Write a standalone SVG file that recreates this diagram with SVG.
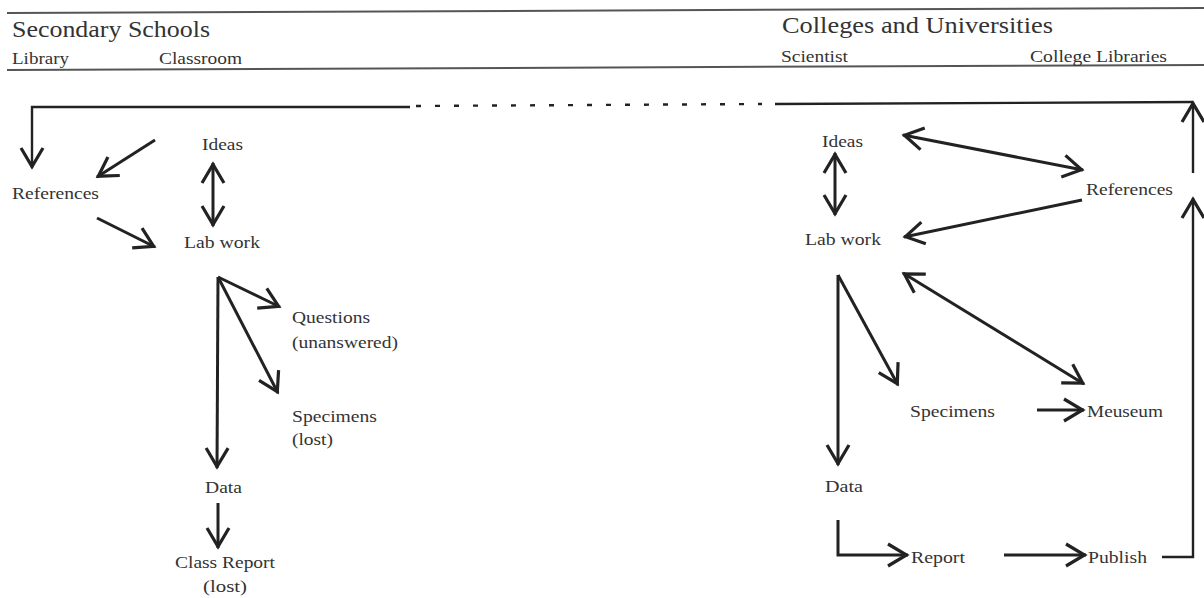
<svg xmlns="http://www.w3.org/2000/svg" width="1204" height="598" viewBox="0 0 1204 598">
<style>
text{font-family:"Liberation Serif","Times New Roman",serif;fill:#333;font-size:16.5px}
.h1{font-size:24px}
.h2{font-size:16px}
.rule{stroke:#555;stroke-width:2;fill:none}
.c{stroke:#222;stroke-width:3;fill:none}
.fb{stroke:#222;stroke-width:2.4;fill:none}
</style>
<defs>
<marker id="ah" viewBox="-26 -15 30 30" refX="0" refY="0" markerWidth="30" markerHeight="30" markerUnits="userSpaceOnUse" orient="auto-start-reverse">
<path d="M-20,-11 L-1.5,0 L-20,11" fill="none" stroke="#222" stroke-width="3.2"/>
</marker>
</defs>
<g id="header">
<line class="rule" x1="7" y1="13" x2="1204" y2="8"/>
<line class="rule" x1="7" y1="70" x2="1204" y2="65"/>
<text class="h1" x="12" y="37" textLength="198" lengthAdjust="spacingAndGlyphs">Secondary Schools</text>
<text class="h2" x="12" y="64" textLength="57" lengthAdjust="spacingAndGlyphs">Library</text>
<text class="h2" x="159" y="64" textLength="83" lengthAdjust="spacingAndGlyphs">Classroom</text>
<text class="h1" x="782" y="33" textLength="271" lengthAdjust="spacingAndGlyphs">Colleges and Universities</text>
<text class="h2" x="781" y="62" textLength="67" lengthAdjust="spacingAndGlyphs">Scientist</text>
<text class="h2" x="1030" y="62" textLength="137" lengthAdjust="spacingAndGlyphs">College Libraries</text>
</g>
<g id="s-ideas"><text x="202" y="150" textLength="41" lengthAdjust="spacingAndGlyphs">Ideas</text></g>
<g id="s-references"><text x="12" y="199" textLength="87" lengthAdjust="spacingAndGlyphs">References</text></g>
<g id="s-labwork"><text x="184" y="248" textLength="76" lengthAdjust="spacingAndGlyphs">Lab work</text></g>
<g id="s-questions"><text x="292" y="323" textLength="78" lengthAdjust="spacingAndGlyphs">Questions</text><text x="292" y="348" textLength="106" lengthAdjust="spacingAndGlyphs">(unanswered)</text></g>
<g id="s-specimens"><text x="292" y="422" textLength="85" lengthAdjust="spacingAndGlyphs">Specimens</text><text x="292" y="445" textLength="41" lengthAdjust="spacingAndGlyphs">(lost)</text></g>
<g id="s-data"><text x="205" y="493" textLength="37" lengthAdjust="spacingAndGlyphs">Data</text></g>
<g id="s-classreport"><text x="175" y="568" textLength="100" lengthAdjust="spacingAndGlyphs">Class Report</text><text x="203" y="592" textLength="44" lengthAdjust="spacingAndGlyphs">(lost)</text></g>
<g id="c-ideas"><text x="822" y="147" textLength="41" lengthAdjust="spacingAndGlyphs">Ideas</text></g>
<g id="c-labwork"><text x="805" y="245" textLength="76" lengthAdjust="spacingAndGlyphs">Lab work</text></g>
<g id="c-references"><text x="1086" y="195" textLength="87" lengthAdjust="spacingAndGlyphs">References</text></g>
<g id="c-specimens"><text x="910" y="417" textLength="85" lengthAdjust="spacingAndGlyphs">Specimens</text></g>
<g id="c-meuseum"><text x="1087" y="417" textLength="76" lengthAdjust="spacingAndGlyphs">Meuseum</text></g>
<g id="c-data"><text x="825" y="492" textLength="38" lengthAdjust="spacingAndGlyphs">Data</text></g>
<g id="c-report"><text x="911" y="563" textLength="54" lengthAdjust="spacingAndGlyphs">Report</text></g>
<g id="c-publish"><text x="1088" y="563" textLength="59" lengthAdjust="spacingAndGlyphs">Publish</text></g>
<g id="connectors">
<polyline class="fb" points="410,107 32,107 32,168" marker-end="url(#ah)"/>
<line class="fb" x1="416" y1="106" x2="762" y2="104" stroke-dasharray="5 14"/>
<line class="fb" x1="775" y1="104" x2="1193" y2="102"/>
<line class="fb" x1="1193" y1="173" x2="1193" y2="102" marker-end="url(#ah)"/>
<polyline class="fb" points="1162,557 1193,557 1193,198" marker-end="url(#ah)"/>
<line class="c" x1="155" y1="140" x2="97" y2="177" marker-end="url(#ah)"/>
<line class="c" x1="97" y1="218" x2="155" y2="247" marker-end="url(#ah)"/>
<line class="c" x1="213" y1="163" x2="213" y2="226" marker-start="url(#ah)" marker-end="url(#ah)"/>
<line class="c" x1="218" y1="277" x2="280" y2="307" marker-end="url(#ah)"/>
<line class="c" x1="218" y1="277" x2="278" y2="393" marker-end="url(#ah)"/>
<line class="c" x1="218" y1="277" x2="217" y2="468" marker-end="url(#ah)"/>
<line class="c" x1="218" y1="503" x2="218" y2="548" marker-end="url(#ah)"/>
<line class="c" x1="903" y1="135" x2="1083" y2="170" marker-start="url(#ah)" marker-end="url(#ah)"/>
<line class="c" x1="1082" y1="200" x2="904" y2="237" marker-end="url(#ah)"/>
<line class="c" x1="835" y1="153" x2="835" y2="215" marker-start="url(#ah)" marker-end="url(#ah)"/>
<line class="c" x1="838" y1="275" x2="898" y2="385" marker-end="url(#ah)"/>
<line class="c" x1="838" y1="275" x2="838" y2="465" marker-end="url(#ah)"/>
<line class="c" x1="903" y1="273" x2="1084" y2="384" marker-start="url(#ah)" marker-end="url(#ah)"/>
<line class="c" x1="1037" y1="410" x2="1084" y2="410" marker-end="url(#ah)"/>
<polyline class="c" points="838,520 838,555 908,555" marker-end="url(#ah)"/>
<line class="c" x1="1004" y1="555" x2="1086" y2="555" marker-end="url(#ah)"/>
</g>
</svg>
